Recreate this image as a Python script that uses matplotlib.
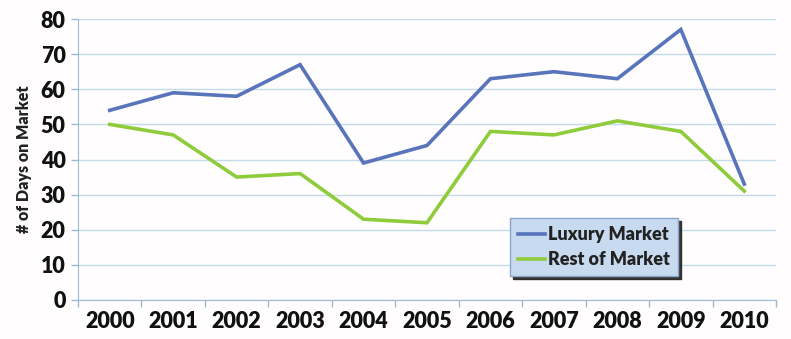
import matplotlib
matplotlib.use("Agg")
import matplotlib.pyplot as plt

years = ["2000", "2001", "2002", "2003", "2004", "2005", "2006", "2007", "2008", "2009", "2010"]
luxury = [54, 59, 58, 67, 39, 44, 63, 65, 63, 77, 33]
rest = [50, 47, 35, 36, 23, 22, 48, 47, 51, 48, 31]
series_names = ["Luxury Market", "Rest of Market"]

plt.rcParams['font.family'] = ['Lato', 'DejaVu Sans']
W = 'heavy'

fig = plt.figure(figsize=(7.91, 3.39), dpi=100)
fig.patch.set_facecolor('#fffdfd')
ax = fig.add_axes([78/791, 1 - 300/339, (776-78)/791, (300-19)/339])
ax.set_facecolor('#fffdfd')

x = list(range(len(years)))
l1, = ax.plot(x, luxury, color='#5874bb', lw=2.6, label=series_names[0], solid_joinstyle='miter')
l2, = ax.plot(x, rest, color='#8fcc3c', lw=2.6, label=series_names[1], solid_joinstyle='miter')

ax.set_xlim(-0.5, len(years) - 0.5)
ax.set_ylim(0, 80)
ax.set_yticks(range(0, 81, 10))
ax.set_xticks(x)
ax.set_xticklabels(years)
ax.set_xticks([i + 0.5 for i in range(-1, len(years))], minor=True)
ax.tick_params(axis='x', which='major', length=0, pad=8, labelsize=15.5)
ax.tick_params(axis='x', which='minor', length=5, color='#9dbbd3', direction='out', width=1)
ax.tick_params(axis='y', length=5, color='#9dbbd3', labelsize=15.5, pad=4, width=1)
for lab in ax.get_xticklabels() + ax.get_yticklabels():
    lab.set_fontweight(W)
    lab.set_color('#111111')

ax.grid(axis='y', color='#c4dcea', lw=1)
ax.set_axisbelow(True)
for s in ['top', 'right']:
    ax.spines[s].set_visible(False)
ax.spines['left'].set_color('#9dbbd3')
ax.spines['bottom'].set_color('#9dbbd3')

ax.set_ylabel('# of Days on Market', fontsize=11.5, fontweight=W, color='#222222', labelpad=6)

leg = ax.legend(handles=[l1, l2], loc='upper left', bbox_to_anchor=((510-78)/698, 1 - (218-19)/281),
                frameon=True, fancybox=False, shadow={'color': '#222222', 'alpha': 0.9}, fontsize=13,
                handlelength=1.5, handletextpad=0.15, borderpad=0.45, labelspacing=0.45,
                borderaxespad=0)
frame = leg.get_frame()
frame.set_facecolor('#c8daf0')
frame.set_edgecolor('#8aa6c8')
frame.set_alpha(1)
for t in leg.get_texts():
    t.set_fontweight(W)
    t.set_color('#222222')

fig.savefig('out.png', dpi=100, facecolor=fig.get_facecolor())
